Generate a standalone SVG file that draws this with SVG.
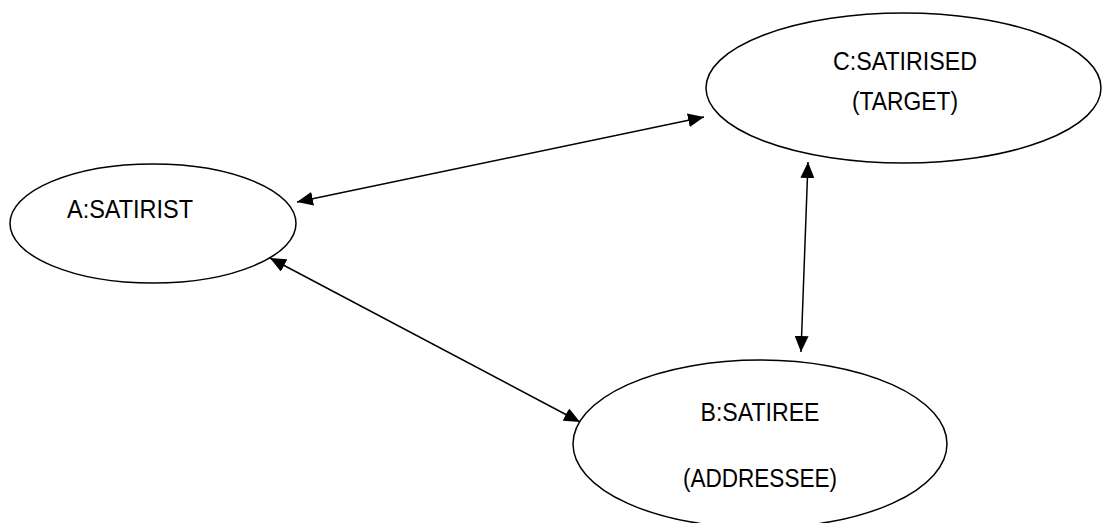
<svg xmlns="http://www.w3.org/2000/svg" width="1102" height="523" viewBox="0 0 1102 523">
  <style>
    .node { fill: #ffffff; stroke: #000000; stroke-width: 1.5; }
    .label { font-family: "Liberation Sans", Arial, sans-serif; font-size: 25px; fill: #000000; text-anchor: middle; }
    .edge { stroke: #000000; stroke-width: 1.5; fill: none; marker-start: url(#arrow); marker-end: url(#arrow); }
  </style>
  <defs>
    <marker id="arrow" viewBox="0 0 16 14" refX="16" refY="7" markerWidth="16" markerHeight="14" markerUnits="userSpaceOnUse" orient="auto-start-reverse">
      <path d="M0,0 L16,7 L0,14 Z" fill="#000000"/>
    </marker>
  </defs>
  <rect width="1102" height="523" fill="#ffffff"/>
  <g id="node-a">
    <ellipse class="node" cx="153" cy="223.5" rx="143" ry="59.5"/>
    <text class="label" x="130" y="218" textLength="126" lengthAdjust="spacingAndGlyphs">A:SATIRIST</text>
  </g>
  <g id="node-c">
    <ellipse class="node" cx="903.5" cy="88" rx="197.5" ry="75"/>
    <text class="label" x="905" y="70" textLength="144" lengthAdjust="spacingAndGlyphs">C:SATIRISED</text>
    <text class="label" x="905" y="110" textLength="106" lengthAdjust="spacingAndGlyphs">(TARGET)</text>
  </g>
  <g id="node-b">
    <ellipse class="node" cx="760" cy="444" rx="187" ry="84"/>
    <text class="label" x="760" y="421" textLength="119" lengthAdjust="spacingAndGlyphs">B:SATIREE</text>
    <text class="label" x="760" y="487" textLength="154" lengthAdjust="spacingAndGlyphs">(ADDRESSEE)</text>
  </g>
  <g id="connectors">
    <line class="edge" x1="297" y1="202" x2="704" y2="117"/>
    <line class="edge" x1="270" y1="258" x2="580" y2="422"/>
    <line class="edge" x1="808" y1="162" x2="801" y2="352"/>
  </g>
</svg>
